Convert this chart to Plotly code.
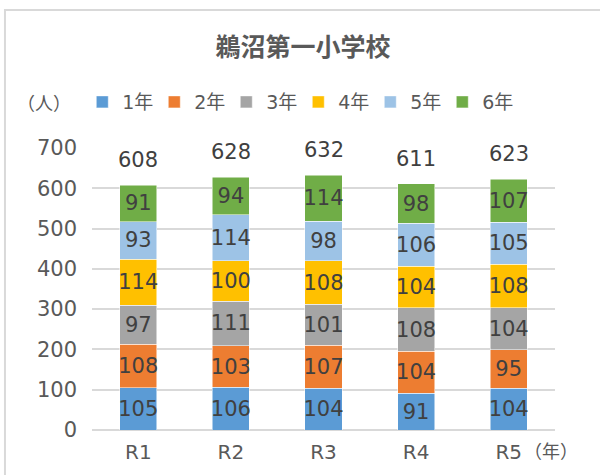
import plotly.graph_objects as go

# ── Data ────────────────────────────────────────────────────────────────────
years = ["R1", "R2", "R3", "R4", "R5"]
grade_names = ["1年", "2年", "3年", "4年", "5年", "6年"]

grade1 = [105, 106, 104, 91, 104]
grade2 = [108, 103, 107, 104, 95]
grade3 = [97, 111, 101, 108, 104]
grade4 = [114, 100, 108, 104, 108]
grade5 = [93, 114, 98, 106, 105]
grade6 = [91, 94, 114, 98, 107]

# ── Styling ─────────────────────────────────────────────────────────────────
COLORS = ["#5B9BD5", "#ED7D31", "#A5A5A5", "#FFC000", "#9DC3E6", "#70AD47"]
JP_FONT = "Noto Sans CJK JP, sans-serif"
NUM_FONT = "DejaVu Sans, Noto Sans CJK JP, sans-serif"
TEXT = "#595959"
LABEL = "#404040"
GRID = "#D9D9D9"

series = [grade1, grade2, grade3, grade4, grade5, grade6]
totals = [sum(v) for v in zip(*series)]

fig = go.Figure()

for name, vals, color in zip(grade_names, series, COLORS):
    fig.add_trace(go.Bar(
        x=years, y=vals, name=name,
        marker=dict(color=color, line=dict(width=0.5, color="white")),
        text=vals, textposition="inside", insidetextanchor="middle",
        textangle=0, constraintext="none",
        textfont=dict(family=NUM_FONT, size=21, color=LABEL),
        width=0.4,
    ))

# invisible spacer entry so the last legend label is not clipped
fig.add_trace(go.Bar(
    x=[None], y=[None], name="\u00a0",
    marker=dict(color="rgba(0,0,0,0)", line=dict(width=0, color="rgba(0,0,0,0)")),
    hoverinfo="skip",
))

# totals above each stack
annotations = [
    dict(x=yr, y=tot, text=str(tot), xref="x", yref="y",
         showarrow=False, yanchor="middle", yshift=25,
         font=dict(family=NUM_FONT, size=21, color=LABEL))
    for yr, tot in zip(years, totals)
]
annotations += [
    dict(text="（人）", x=-0.104, y=1.163, xref="paper", yref="paper",
         xanchor="center", yanchor="middle",
         showarrow=False, font=dict(family=JP_FONT, size=18, color=TEXT)),
    dict(text="（年）", x=0.928, y=-0.071, xref="paper", yref="paper",
         xanchor="left", yanchor="middle",
         showarrow=False, font=dict(family=JP_FONT, size=18, color=TEXT)),
]

fig.update_layout(
    barmode="stack",
    width=600, height=475,
    font=dict(family=JP_FONT, color=TEXT),
    paper_bgcolor="white", plot_bgcolor="white",
    margin=dict(l=92, r=45, t=148, b=45, autoexpand=False),
    uniformtext=dict(minsize=21, mode="show"),
    title=dict(text="鵜沼第一小学校", x=0.505, xanchor="center",
               y=1 - 47 / 475, yanchor="middle",
               font=dict(family=JP_FONT, size=25, color=TEXT, weight="bold")),
    legend=dict(orientation="h", x=-0.021, xanchor="left", y=1.163, yanchor="middle",
                font=dict(family=NUM_FONT, size=19, color=TEXT),
                traceorder="normal", itemwidth=30, entrywidth=27),
    annotations=annotations,
    shapes=[
        dict(type="rect", xref="paper", yref="paper",
             x0=-0.188, x1=1.5, y0=-0.5, y1=1.489,
             line=dict(color=GRID, width=2), fillcolor="rgba(0,0,0,0)"),
    ],
)

fig.update_xaxes(showgrid=False, showline=False, ticks="", automargin=False,
                 ticklabelstandoff=8,
                 tickfont=dict(family=NUM_FONT, size=20, color=TEXT))
fig.update_yaxes(range=[0, 700], dtick=100, gridcolor=GRID, gridwidth=1.5,
                 zeroline=True, zerolinecolor=GRID, zerolinewidth=1.5,
                 showline=False, ticks="", ticklabelstandoff=14, automargin=False,
                 tickfont=dict(family=NUM_FONT, size=21, color=TEXT))

fig.write_html("out.html", config={"displayModeBar": False},
               post_script="document.body.style.margin='0';")
